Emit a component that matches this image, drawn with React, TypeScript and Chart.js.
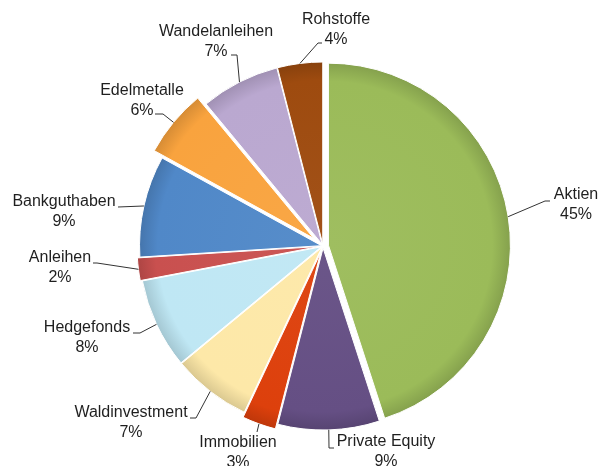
import React, { useEffect, useRef } from "react";
import { Chart, PieController, ArcElement } from "chart.js";

Chart.register(PieController, ArcElement);

// ---- data ----
const categories = [
  "Aktien",
  "Private Equity",
  "Immobilien",
  "Waldinvestment",
  "Hedgefonds",
  "Anleihen",
  "Bankguthaben",
  "Edelmetalle",
  "Wandelanleihen",
  "Rohstoffe",
];
const shares = [45, 9, 3, 7, 8, 2, 9, 6, 7, 4];

// ---- styling / layout ----
const sliceColors = [
  "#9BBB59",
  "#654F84",
  "#DD400C",
  "#FDE8A8",
  "#BFE7F4",
  "#C9504F",
  "#5088C8",
  "#F9A33E",
  "#BAA8D0",
  "#9E4B0F",
];
const explodePx = [5.5, 2, 7, 2, 2, 4, 1.5, 12, 2, 2];
const RADIUS = 182;
const labelAnchors: [number, number][] = [
  [576, 195],
  [386, 442],
  [238, 443],
  [131, 413],
  [87, 328],
  [60, 258],
  [64, 202],
  [142, 91],
  [216, 32],
  [336, 20],
];
const leaderPaths: [number, number][][] = [
  [[545, 201], [550, 201]],
  [[329, 448], [334, 448]],
  [[257, 432]],
  [[196, 418], [190, 418]],
  [[140, 333], [133, 333]],
  [[97, 263], [93, 263]],
  [[118, 207]],
  [[163, 114], [155, 114]],
  [[237, 55], [231, 55]],
  [[318, 43], [322, 43]],
];

function shade(hex: string, f: number): string {
  const n = parseInt(hex.slice(1), 16);
  let r = (n >> 16) & 255, g = (n >> 8) & 255, b = n & 255;
  const adj = (c: number) => Math.max(0, Math.min(255, Math.round(f < 0 ? c * (1 + f) : c + (255 - c) * f)));
  r = adj(r); g = adj(g); b = adj(b);
  return `rgb(${r},${g},${b})`;
}

const explodePlugin = {
  id: "explodeDraw",
  beforeDatasetDraw(chart: any, args: any) {
    const ctx = chart.ctx;
    const meta = args.meta;
    meta.data.forEach((el: any, i: number) => {
      const mid = (el.startAngle + el.endAngle) / 2;
      const t = explodePx[i] || 0;
      ctx.save();
      ctx.translate(Math.cos(mid) * t, Math.sin(mid) * t);
      el.draw(ctx);
      ctx.restore();
    });
    return false;
  },
};

const labelPlugin = {
  id: "sliceLabels",
  afterDraw(chart: any) {
    const ctx = chart.ctx;
    const meta = chart.getDatasetMeta(0);
    const total = shares.reduce((a, b) => a + b, 0);
    ctx.save();
    meta.data.forEach((el: any, i: number) => {
      const mid = (el.startAngle + el.endAngle) / 2;
      const t = explodePx[i] || 0;
      const rr = el.outerRadius + t;
      const sx = el.x + Math.cos(mid) * rr;
      const sy = el.y + Math.sin(mid) * rr;
      ctx.beginPath();
      ctx.moveTo(sx, sy);
      leaderPaths[i].forEach(([px, py]) => ctx.lineTo(px, py));
      ctx.strokeStyle = "#333333";
      ctx.lineWidth = 1;
      ctx.stroke();

      const [lx, ly] = labelAnchors[i];
      ctx.fillStyle = "#1f1f1f";
      ctx.font = "16px 'Liberation Sans', Arial, sans-serif";
      ctx.textAlign = "center";
      ctx.textBaseline = "middle";
      ctx.fillText(categories[i], lx, ly);
      const pct = Math.round((shares[i] / total) * 100) + "%";
      ctx.fillText(pct, lx, ly + 19.5);
    });
    ctx.restore();
  },
};

export default function App() {
  const ref = useRef<HTMLCanvasElement | null>(null);
  useEffect(() => {
    if (!ref.current) return;
    const chart = new Chart(ref.current, {
      type: "pie",
      data: {
        labels: categories,
        datasets: [
          {
            data: shares,
            backgroundColor: (c: any) => {
              const base = sliceColors[c.dataIndex];
              const area = c.chart.chartArea;
              if (!area) return base;
              const cx = (area.left + area.right) / 2;
              const cy = (area.top + area.bottom) / 2;
              const g = c.chart.ctx.createRadialGradient(cx, cy, 0, cx, cy, RADIUS);
              g.addColorStop(0, shade(base, 0.04));
              g.addColorStop(0.9, base);
              g.addColorStop(1, shade(base, -0.14));
              return g;
            },
            borderColor: "#ffffff",
            borderWidth: 1,
            clip: false,
          } as any,
        ],
      },
      options: {
        animation: false,
        responsive: false,
        radius: RADIUS,
        layout: { padding: { left: 46, right: 0, top: 26, bottom: 0 } },
        plugins: {
          legend: { display: false },
          tooltip: { enabled: false },
        },
      } as any,
      plugins: [explodePlugin, labelPlugin],
    });
    return () => chart.destroy();
  }, []);
  return (
    <div style={{ position: "fixed", left: 0, top: 0, width: 600, height: 466, background: "#ffffff" }}>
      <canvas ref={ref} width={600} height={466} style={{ display: "block" }} />
    </div>
  );
}
